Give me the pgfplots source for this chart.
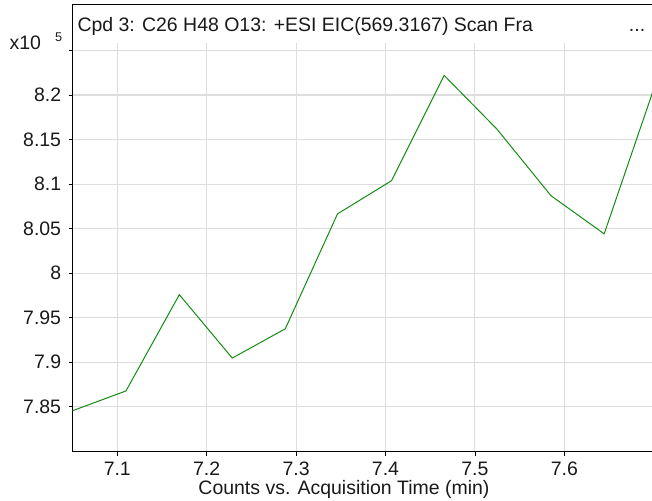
\documentclass[border=0pt]{standalone}
\usepackage{fontspec}
\setmainfont{Liberation Sans}
\usepackage{pgfplots}
\pgfplotsset{compat=1.18}
\definecolor{eicgreen}{RGB}{20,140,20}
\definecolor{gridgray}{RGB}{222,222,222}
\definecolor{txt}{RGB}{25,25,25}
\begin{document}
\fontsize{14.6}{17}\selectfont
\begin{tikzpicture}
\useasboundingbox (-54.375pt,-36.225pt) rectangle (434.625pt,338.775pt);
\begin{axis}[
  at={(0,0)}, anchor=south west,
  scale only axis,
  width=434.625pt, height=306.75pt,
  xmin=7.0499, xmax=7.6981,
  ymin=7.7995, ymax=8.2587,
  axis x line*=bottom, axis y line*=left,
  axis line style={black, line width=0.9pt, -},
  xtick={7.1,7.2,7.3,7.4,7.5,7.6},
  xticklabels={7.1,7.2,7.3,7.4,7.5,7.6},
  ytick={7.85,7.9,7.95,8,8.05,8.1,8.15,8.2,8.25},
  yticklabels={7.85,7.9,7.95,8,8.05,8.1,8.15,8.2,{}},
  tick align=outside,
  major tick length=3pt,
  tick style={black, line width=0.6pt},
  grid=major,
  major grid style={gridgray, line width=0.8pt},
  ticklabel style={font=\fontsize{14.6}{17}\selectfont, text=txt},
  yticklabel style={xshift=-0.5pt},
  xticklabel style={anchor=base, inner sep=0pt, yshift=-14.7pt},
]
\addplot[eicgreen, line width=0.75pt] coordinates {
(7.0499,7.8455) (7.1097,7.8677) (7.1694,7.9758) (7.2286,7.9046)
(7.2879,7.9375) (7.3463,8.0665) (7.4067,8.1037) (7.4656,8.2220)
(7.5247,8.1616) (7.5851,8.0869) (7.6446,8.0441) (7.7036,8.2172)
};
\end{axis}
% title frame
\draw[black, line width=0.9pt] (0,306.75pt) -- (0,335.25pt) -- (434.625pt,335.25pt);
\node[anchor=base west, inner sep=0pt, text=txt] at (3.6pt,314.8pt) {Cpd 3: C26 H48 O13: +ESI EIC(569.3167) Scan Fra};
\node[anchor=base, inner sep=0pt, text=txt] at (423.4pt,315.5pt) {...};
\node[anchor=base west, inner sep=0pt, text=txt] at (-47.4pt,301.3pt) {x10};
\node[anchor=base west, inner sep=0pt, text=txt, font=\fontsize{9.5}{10}\selectfont] at (-13.2pt,307.3pt) {5};
\node[anchor=base, inner sep=0pt, text=txt] at (203.6pt,-32.3pt) {Counts vs. Acquisition Time (min)};
\end{tikzpicture}
\end{document}
